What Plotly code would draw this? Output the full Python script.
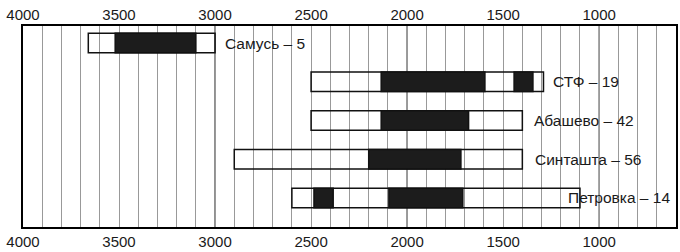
import plotly.graph_objects as go

# --- data -------------------------------------------------------------
cultures = ["Самусь", "СТФ", "Абашево", "Синташта", "Петровка"]
counts = [5, 19, 42, 56, 14]
row_pos = [1, 2, 3, 4, 5]

range_start = [3660, 2500, 2500, 2900, 2600]   # outer (white) bars, years BC
range_end = [3000, 1290, 1400, 1400, 1100]

core_row = ["Самусь", "СТФ", "СТФ", "Абашево", "Синташта", "Петровка", "Петровка"]
core_start = [3520, 2135, 1443, 2135, 2200, 2485, 2095]
core_end = [3100, 1595, 1345, 1680, 1720, 2385, 1710]

label_year = [2955, 1244, 1346, 1339, 1166]

tick_years = [4000, 3500, 3000, 2500, 2000, 1500, 1000]
millennium_lines = [3000, 2000, 1000]

# --- figure -----------------------------------------------------------
row_of = dict(zip(cultures, row_pos))
fig = go.Figure()

fig.add_trace(go.Bar(
    orientation="h",
    y=row_pos,
    base=range_start,
    x=[e - s for s, e in zip(range_start, range_end)],
    width=0.5,
    marker=dict(color="rgba(0,0,0,0)", line=dict(color="#111", width=1.5)),
    hoverinfo="skip",
))

fig.add_trace(go.Bar(
    orientation="h",
    y=[row_of[r] for r in core_row],
    base=core_start,
    x=[e - s for s, e in zip(core_start, core_end)],
    width=0.5,
    marker=dict(color="#1c1c1c", line=dict(color="#111", width=1.5)),
    hoverinfo="skip",
))

for name, n, y, lx in zip(cultures, counts, row_pos, label_year):
    fig.add_annotation(
        x=lx, y=y, xref="x", yref="y",
        text=f"{name} – {n}", showarrow=False,
        xanchor="left", yanchor="middle", borderpad=0,
        font=dict(family="Liberation Sans, Arial", size=15.5, color="#1a1a1a"),
    )

for yr in millennium_lines:
    fig.add_shape(type="line", xref="x", yref="paper", x0=yr, x1=yr, y0=0, y1=1,
                  line=dict(color="#333", width=1.2), layer="between")

axis_font = dict(family="Liberation Sans, Arial", size=15, color="#1a1a1a")
fig.update_layout(
    width=680, height=252,
    margin=dict(l=23, r=4, t=26, b=25),
    paper_bgcolor="white", plot_bgcolor="white",
    showlegend=False, barmode="overlay",
    xaxis=dict(
        range=[4000, 600], tickvals=tick_years, ticks="", automargin=False,
        tickfont=axis_font, showgrid=True, gridcolor="#999999", gridwidth=1,
        minor=dict(dtick=100, tick0=0, showgrid=True, gridcolor="#999999", gridwidth=1),
        showline=True, linecolor="black", linewidth=2, mirror=True,
        zeroline=False, fixedrange=True, ticklabelstandoff=0,
    ),
    xaxis2=dict(
        overlaying="x", matches="x", side="top", range=[4000, 600], automargin=False,
        tickvals=tick_years, ticks="", tickfont=axis_font, ticklabelstandoff=2,
        showgrid=False, zeroline=False, showline=False,
    ),
    yaxis=dict(
        range=[5.75, 0.56], showticklabels=False, ticks="", showgrid=False, automargin=False,
        zeroline=False, showline=True, linecolor="black", linewidth=2, mirror=True,
        fixedrange=True,
    ),
)
fig.add_trace(go.Scatter(x=[2000], y=[3], xaxis="x2", yaxis="y", mode="markers",
                         marker=dict(opacity=0), hoverinfo="skip"))

fig.write_html("out.html", config={"displayModeBar": False},
               post_script="document.body.style.margin='0';")
